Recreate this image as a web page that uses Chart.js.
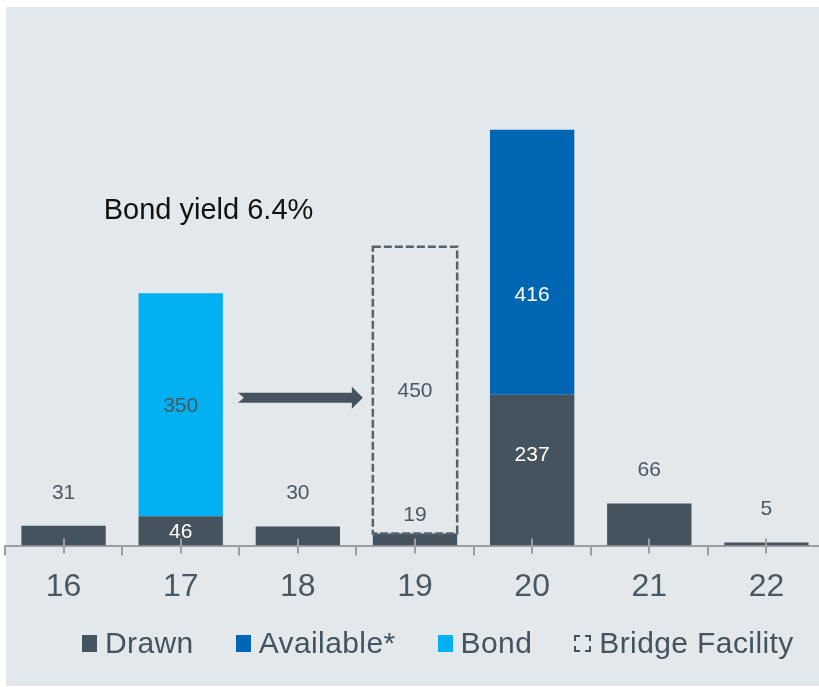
<!DOCTYPE html>
<html>
<head>
<meta charset="utf-8">
<script src="https://cdn.jsdelivr.net/npm/chart.js@4.4.1/dist/chart.umd.min.js"></script>
<style>
  html,body{margin:0;padding:0;background:#fff;overflow:hidden;width:819px;height:687px}
  #wrap{position:absolute;left:0;top:0;width:830px;height:687px}
  #legend{position:absolute;left:82px;top:628px;display:flex;align-items:center;gap:42px;
    font-family:"Liberation Sans",Arial,sans-serif;font-size:30px;line-height:30px;letter-spacing:0.4px;color:#44535e;white-space:nowrap}
  .li{display:flex;align-items:center}
  .sw{width:15px;height:17px;margin-right:8px;display:inline-block;box-sizing:border-box}
</style>
</head>
<body>
<div id="wrap"><canvas id="c" width="830" height="687"></canvas></div>
<div id="legend"></div>
<script>
const years=['16','17','18','19','20','21','22'];
const drawn=[31,46,30,19,237,66,5];
const available=[null,null,null,null,416,null,null];
const bond=[null,350,null,null,null,null,null];
const bridge=[null,null,null,450,null,null,null];

const C_DRAWN='#45535e',C_AVAIL='#0066b3',C_BOND='#00b0f0',C_TEXT='#4a5863',C_AXIS='#9a9ea2';

Chart.defaults.font.family='"Liberation Sans", Arial, sans-serif';

document.getElementById('legend').innerHTML=[
  {l:'Drawn',s:`background:${C_DRAWN}`},
  {l:'Available*',s:`background:${C_AVAIL}`},
  {l:'Bond',s:`background:${C_BOND}`},
  {l:'Bridge Facility',s:`border:2px dashed ${C_DRAWN};width:17px`},
].map(x=>`<span class="li"><span class="sw" style="${x.s}"></span>${x.l}</span>`).join('');

// panel background behind everything
const panelBg={id:'panelBg',beforeDraw(ch){
  const ctx=ch.ctx;ctx.save();ctx.fillStyle='#e2e8ec';ctx.fillRect(6,7,ch.width-6,679);ctx.restore();
}};

// dashed outline for the bridge facility bar, ticks at category centres, labels, arrow
const overlays={id:'overlays',afterDatasetsDraw(ch){
  const ctx=ch.ctx,x=ch.scales.x,y=ch.scales.y,b=ch.chartArea.bottom;
  ctx.save();
  const bm=ch.getDatasetMeta(3);
  bm.data.forEach((el,i)=>{
    if(bridge[i]==null)return;
    const p=el.getProps(['x','y','base','width'],true);
    ctx.setLineDash([8,3]);ctx.lineWidth=2.5;ctx.strokeStyle='#56636d';
    ctx.strokeRect(p.x-p.width/2,p.y,p.width,p.base-p.y);
  });
  ctx.setLineDash([]);
  ctx.strokeStyle=C_AXIS;ctx.lineWidth=2;
  years.forEach((_,i)=>{
    const px=Math.round(x.getPixelForTick(i));
    ctx.beginPath();ctx.moveTo(px,b-7);ctx.lineTo(px,b+8);ctx.stroke();
  });

  // value labels
  ctx.font='21px "Liberation Sans", Arial, sans-serif';ctx.textAlign='center';ctx.textBaseline='middle';
  const dm=ch.getDatasetMeta(0);
  dm.data.forEach((el,i)=>{
    const p=el.getProps(['x','y','base'],true);
    if(available[i]!=null){ctx.fillStyle='#fff';ctx.fillText(drawn[i],p.x,p.y+(p.base-p.y)*0.4);}
    else if(bond[i]!=null){ctx.fillStyle='#fff';ctx.fillText(drawn[i],p.x,(p.y+p.base)/2+1);}
    else if(bridge[i]!=null){ctx.fillStyle=C_TEXT;ctx.fillText(drawn[i],p.x,p.y-18);}
    else{ctx.fillStyle=C_TEXT;ctx.fillText(drawn[i],p.x,p.y-33);}
  });
  [[1,available,'#fff',0.62],[2,bond,C_TEXT,0.5],[3,bridge,C_TEXT,0.5]].forEach(([k,arr,col,f])=>{
    ch.getDatasetMeta(k).data.forEach((el,i)=>{
      if(arr[i]==null)return;
      const p=el.getProps(['x','y','base'],true);
      ctx.fillStyle=col;ctx.fillText(arr[i],p.x,p.y+(p.base-p.y)*f+1);
    });
  });

  // arrow from bond bar to bridge bar
  const bo=ch.getDatasetMeta(2).data[1].getProps(['x','y','width'],true);
  const br=ch.getDatasetMeta(3).data[3].getProps(['x','width'],true);
  const x0=bo.x+bo.width/2+15,x1=br.x-br.width/2-10,ay=y.getPixelForValue(232);
  ctx.fillStyle=C_DRAWN;ctx.beginPath();
  ctx.moveTo(x0,ay-5);ctx.lineTo(x1-11,ay-5);ctx.lineTo(x1-11,ay-11);ctx.lineTo(x1,ay);
  ctx.lineTo(x1-11,ay+11);ctx.lineTo(x1-11,ay+5);ctx.lineTo(x0,ay+5);ctx.lineTo(x0+6,ay);
  ctx.closePath();ctx.fill();

  ctx.font='29px "Liberation Sans", Arial, sans-serif';ctx.textAlign='left';ctx.fillStyle='#111';
  ctx.fillText('Bond yield 6.4%',bo.x-77,bo.y-82);
  ctx.restore();
}};

new Chart(document.getElementById('c'),{
  type:'bar',
  data:{labels:years,datasets:[
    {label:'Drawn',data:drawn,backgroundColor:C_DRAWN},
    {label:'Available*',data:available,backgroundColor:C_AVAIL},
    {label:'Bond',data:bond,backgroundColor:C_BOND},
    {label:'Bridge Facility',data:bridge,backgroundColor:'rgba(0,0,0,0)'},
  ]},
  options:{
    responsive:false,animation:false,
    layout:{padding:{left:5,right:5,top:36,bottom:69}},
    datasets:{bar:{barPercentage:0.72,categoryPercentage:1,borderWidth:0}},
    plugins:{legend:{display:false},tooltip:{enabled:false}},
    scales:{
      x:{stacked:true,
        grid:{offset:true,drawOnChartArea:false,tickLength:10,color:C_AXIS,lineWidth:2},
        border:{color:C_AXIS,width:2},
        ticks:{color:C_TEXT,font:{size:32},padding:12,maxRotation:0}},
      y:{stacked:true,display:false,min:0,max:800}
    }
  },
  plugins:[panelBg,overlays]
});
</script>
</body>
</html>
